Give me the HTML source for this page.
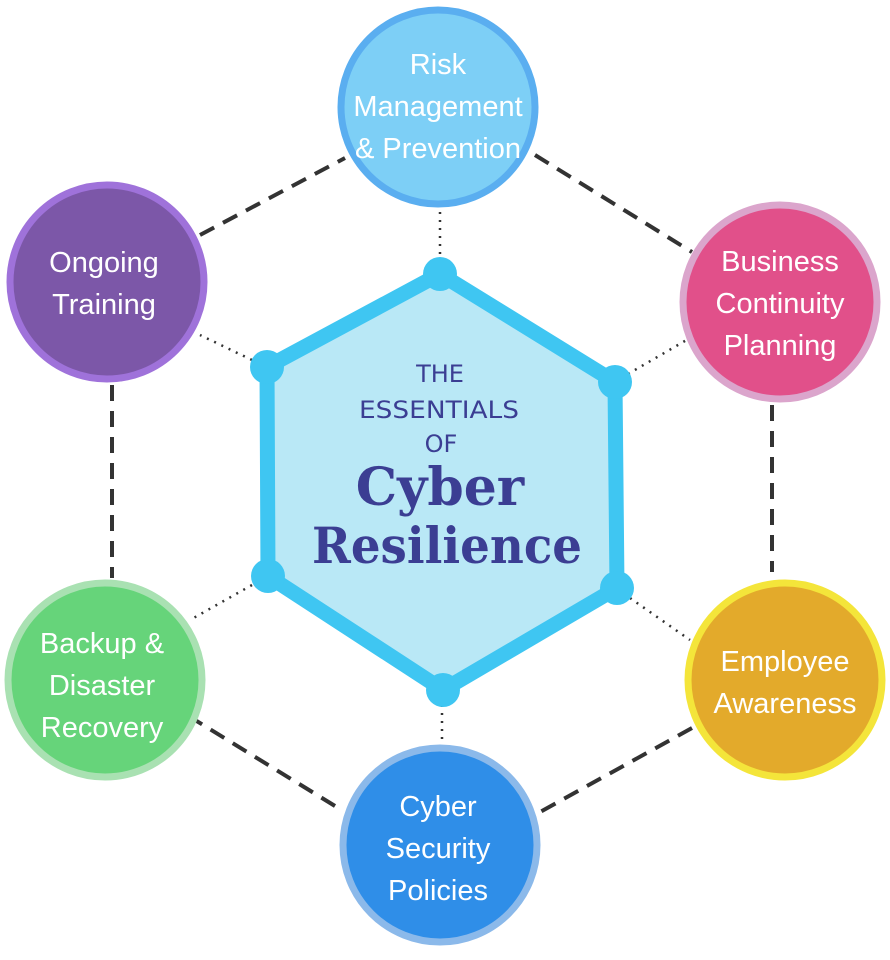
<!DOCTYPE html>
<html><head><meta charset="utf-8"><style>
html,body{margin:0;padding:0;background:#fff;}
svg{display:block}
.lbl{font-family:"Liberation Sans Narrow","Liberation Sans",sans-serif;font-size:29px;fill:#fff;text-anchor:middle}
</style></head><body>
<svg width="890" height="960" viewBox="0 0 890 960" xmlns="http://www.w3.org/2000/svg">
<g stroke="#333" stroke-width="4" stroke-dasharray="16,10" fill="none">
<line x1="200" y1="235" x2="345" y2="158"/>
<line x1="535" y1="155" x2="692" y2="252"/>
<line x1="772" y1="405" x2="772" y2="572"/>
<line x1="692" y1="728" x2="540" y2="812"/>
<line x1="335" y1="806" x2="195" y2="720"/>
<line x1="112" y1="385" x2="112" y2="578"/>
</g>
<g stroke="#333" stroke-width="2.5" stroke-dasharray="2,6" fill="none">
<line x1="440" y1="212" x2="440" y2="262"/>
<line x1="628" y1="374" x2="690" y2="338"/>
<line x1="630" y1="598" x2="690" y2="640"/>
<line x1="442" y1="705" x2="442" y2="745"/>
<line x1="252" y1="585" x2="190" y2="620"/>
<line x1="252" y1="360" x2="200" y2="335"/>
</g>
<polygon points="440,274 615,382 617,588 443,690 268,576 267,367" fill="#b9e8f6" stroke="#3fc6f2" stroke-width="15" stroke-linejoin="round"/>
<g fill="#3fc6f2">
<circle cx="440" cy="274" r="17"/><circle cx="615" cy="382" r="17"/><circle cx="617" cy="588" r="17"/>
<circle cx="443" cy="690" r="17"/><circle cx="268" cy="576" r="17"/><circle cx="267" cy="367" r="17"/>
</g>
<g fill="#3b3e93" text-anchor="middle">
<text x="440" y="382" font-family="DejaVu Sans,sans-serif" font-size="24">THE</text>
<text x="439" y="418" font-family="DejaVu Sans,sans-serif" font-size="24" textLength="160" lengthAdjust="spacingAndGlyphs">ESSENTIALS</text>
<text x="441" y="452" font-family="DejaVu Sans,sans-serif" font-size="24">OF</text>
<text x="440" y="505" font-family="DejaVu Serif,serif" font-size="52" font-weight="bold">Cyber</text>
<text x="447" y="563" font-family="DejaVu Serif,serif" font-size="50" font-weight="bold" textLength="270" lengthAdjust="spacingAndGlyphs">Resilience</text>
</g>
<circle cx="438" cy="107" r="97" fill="#7dcff6" stroke="#5aaef0" stroke-width="7"/>
<circle cx="780" cy="302" r="97" fill="#e1508a" stroke="#dba5cc" stroke-width="7"/>
<circle cx="785" cy="680" r="97" fill="#e3aa2b" stroke="#f4e53a" stroke-width="7"/>
<circle cx="440" cy="845" r="97" fill="#2f8ee8" stroke="#8bb9ea" stroke-width="7"/>
<circle cx="105" cy="680" r="97" fill="#66d47a" stroke="#a9e1b2" stroke-width="7"/>
<circle cx="107" cy="282" r="97" fill="#7c57a8" stroke="#9f72da" stroke-width="7"/>
<text class="lbl"><tspan x="438" y="74">Risk</tspan><tspan x="438" y="116">Management</tspan><tspan x="438" y="158">&amp; Prevention</tspan></text>
<text class="lbl"><tspan x="780" y="271">Business</tspan><tspan x="780" y="313">Continuity</tspan><tspan x="780" y="355">Planning</tspan></text>
<text class="lbl"><tspan x="785" y="671">Employee</tspan><tspan x="785" y="713">Awareness</tspan></text>
<text class="lbl"><tspan x="438" y="816">Cyber</tspan><tspan x="438" y="858">Security</tspan><tspan x="438" y="900">Policies</tspan></text>
<text class="lbl"><tspan x="102" y="653">Backup &amp;</tspan><tspan x="102" y="695">Disaster</tspan><tspan x="102" y="737">Recovery</tspan></text>
<text class="lbl"><tspan x="104" y="272">Ongoing</tspan><tspan x="104" y="314">Training</tspan></text>
</svg>
</body></html>
